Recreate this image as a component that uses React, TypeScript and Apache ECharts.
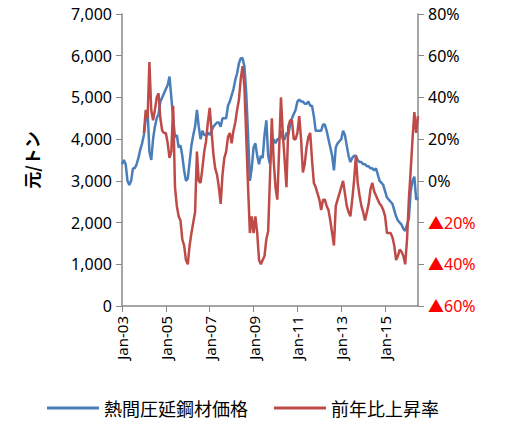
import React from "react";
import * as echarts from "echarts";

// 2003-01 .. 2016-07, monthly
const months: string[] = [];
for (let y = 2003; y <= 2016; y++) {
  for (let m = 0; m < 12; m++) {
    if (y === 2016 && m > 6) break;
    months.push(`${["Jan", "Feb", "Mar", "Apr", "May", "Jun", "Jul", "Aug", "Sep", "Oct", "Nov", "Dec"][m]}-${String(y).slice(2)}`);
  }
}

const steelPrice = [
  3400, 3500, 3400, 3000, 2900, 3000, 3300, 3300, 3400, 3550, 3750, 3900,
  4100, 4500, 4700, 3700, 3500, 4000, 4300, 4500, 4600, 4900, 5000, 5100,
  5200, 5300, 5500, 5000, 4500, 4050, 4100, 3800, 3850, 3600, 3250, 3000,
  3050, 3450, 3850, 4100, 4300, 4700, 4300, 4000, 4200, 4100, 4100, 4150,
  4100, 4200, 4300, 4350, 4400, 4400, 4300, 4500, 4500, 4500, 4800, 4900,
  5050, 5200, 5420, 5580, 5820, 5940, 5940, 5740, 5100, 4100, 3000, 3300,
  3800, 3900, 3600, 3400, 3600, 3550, 4100, 4450, 3600, 3400, 3850, 4000,
  3900, 4000, 4000, 4200, 4000, 4000, 4150, 4100, 4350, 4500, 4600, 4700,
  4900, 4950, 4900, 4900, 4850, 4850, 4900, 4800, 4800, 4550, 4200, 4200,
  4200, 4200, 4350, 4350, 4200, 4000, 3800, 3600, 3250, 3800, 3900, 3950,
  4000, 4200, 4100, 3850, 3600, 3450, 3550, 3600, 3600, 3500, 3450, 3450,
  3400, 3400, 3350, 3350, 3300, 3300, 3250, 3300, 3150, 3000, 2950, 2900,
  2750, 2600, 2550, 2500, 2450, 2300, 2150, 2050, 2000, 1950, 1850, 1800,
  1950, 2100, 2750, 3000, 3100, 2550, 2600,
];

const yoyRate: (number | null)[] = [
  null, null, null, null, null, null, null, null, null, null, null, null,
  23, 34, 30, 57, 34, 29, 34, 40, 42, 30, 24, 23,
  23, 18, 11, 14, 36, -3, -12, -17, -19, -28, -31, -38,
  -40, -31, -25, -20, -15, 14, 0, -1, 6, 14, 19, 28,
  35, 24, 13, 6, 3, -3, -11, 3, 11, 14, 21, 23,
  18, 24, 28, 34, 39, 49, 55, 45, 21, -3, -25, -17,
  -25, -17, -25, -38, -40, -38, -36, -28, -24, 2, 30, 10,
  -3, -9, 15, 40, 23, 10, -3, 26, 29, 29, 20, 20,
  23, 31, 20, 4, 8, 16, 21, 23, 10, -1, -3, -6,
  -9, -14, -9, -9, -12, -14, -19, -25, -31, -12, -9, -6,
  -3, 0, -6, -12, -15, -17, -9, 0, 12, -1, -7, -12,
  -15, -19, -15, -11, -4, -1, -5, -7, -9, -11, -12, -14,
  -17, -25, -25, -25, -27, -31, -38, -36, -33, -34, -36, -40,
  -28, -9, 5, 20, 33, 23, 31,
];

const FONT = "'Noto Sans', 'Noto Sans CJK JP', sans-serif";
const CJK = "'Noto Sans CJK JP', sans-serif";
const showTick = (i: number) => i % 24 === 0;

export default function App() {
  const ref = React.useRef<HTMLDivElement>(null);

  React.useEffect(() => {
    if (!ref.current) return;
    const chart = echarts.init(ref.current, null, { renderer: "svg" });
    chart.setOption({
      animation: false,
      textStyle: { fontFamily: FONT },
      grid: { left: 122, right: 101, top: 14, bottom: 116 },
      legend: {
        bottom: 0,
        left: 42,
        itemWidth: 52,
        itemHeight: 3,
        itemGap: 26,
        icon: "rect",
        textStyle: { fontSize: 18, color: "#000", fontFamily: CJK },
        data: ["熱間圧延鋼材価格", "前年比上昇率"],
      },
      xAxis: {
        type: "category",
        data: months,
        boundaryGap: false,
        axisLine: { lineStyle: { color: "#888", width: 1.5 } },
        axisTick: { interval: (i: number) => showTick(i), length: 6, lineStyle: { color: "#888" } },
        axisLabel: { interval: (i: number) => showTick(i), rotate: 90, fontSize: 15, color: "#000", margin: 10 },
        splitLine: { show: false },
      },
      yAxis: [
        {
          type: "value",
          min: 0,
          max: 7000,
          interval: 1000,
          name: "元/トン",
          nameLocation: "middle",
          nameGap: 82,
          nameTextStyle: { fontSize: 17, fontWeight: "bold", color: "#000", fontFamily: CJK },
          axisLine: { show: true, lineStyle: { color: "#888", width: 1.5 } },
          axisTick: { show: true, length: 6, lineStyle: { color: "#888" } },
          axisLabel: {
            fontSize: 16,
            color: "#000",
            margin: 10,
            formatter: (v: number) => v.toLocaleString("en-US"),
          },
          splitLine: { show: false },
        },
        {
          type: "value",
          min: -60,
          max: 80,
          interval: 20,
          position: "right",
          axisLine: { show: true, lineStyle: { color: "#888", width: 1.5 } },
          axisTick: { show: true, length: 6, lineStyle: { color: "#888" } },
          axisLabel: {
            margin: 10,
            formatter: (v: number) => (v < 0 ? `{neg|▲${-v}%}` : `{pos|${v}%}`),
            rich: {
              neg: { color: "#ff0000", fontSize: 16, fontFamily: FONT },
              pos: { color: "#000", fontSize: 16, fontFamily: FONT },
            },
          },
          splitLine: { show: false },
        },
      ],
      series: [
        {
          name: "熱間圧延鋼材価格",
          type: "line",
          data: steelPrice,
          yAxisIndex: 0,
          symbol: "none",
          lineStyle: { color: "#4a7ebb", width: 2.5 },
          itemStyle: { color: "#4a7ebb" },
        },
        {
          name: "前年比上昇率",
          type: "line",
          data: yoyRate,
          yAxisIndex: 1,
          symbol: "none",
          lineStyle: { color: "#be4b48", width: 2.5 },
          itemStyle: { color: "#be4b48" },
        },
      ],
    });
    return () => chart.dispose();
  }, []);

  return (
    <div
      ref={ref}
      style={{ position: "absolute", left: 0, top: 0, width: 519, height: 422 }}
    />
  );
}
